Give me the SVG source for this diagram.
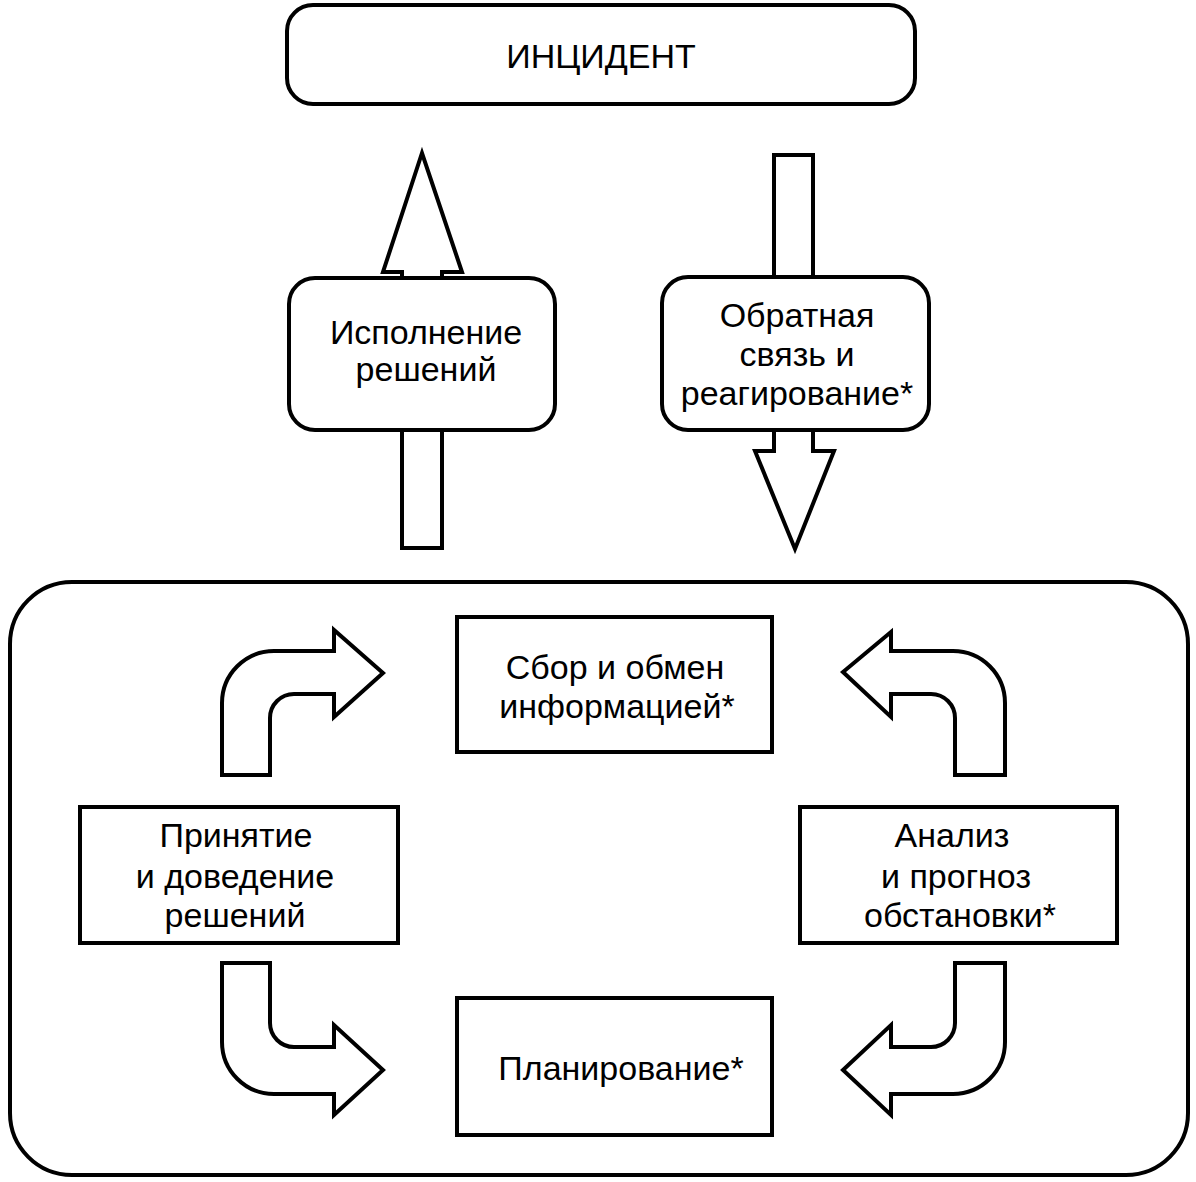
<svg xmlns="http://www.w3.org/2000/svg" width="1196" height="1182" viewBox="0 0 1196 1182">
<style>
.box{fill:#fff;stroke:#000;stroke-width:4}
.arr{fill:#fff;stroke:#000;stroke-width:4;stroke-linejoin:miter}
text{font-family:"Liberation Sans",Arial,sans-serif;font-size:34px;fill:#000;text-anchor:middle}
</style>
<rect width="1196" height="1182" fill="#fff"/>
<g id="container"><rect class="box" x="10" y="582" width="1178" height="593" rx="62"/></g>
<g id="connectors">
<path class="arr" d="M402,280 L402,272 L383,272 L422,153 L462,272 L442,272 L442,280"/>
<path class="arr" d="M402,428 L402,548 L442,548 L442,428"/>
<path class="arr" d="M774,279 L774,155 L813,155 L813,279"/>
<path class="arr" d="M774,428 L774,451 L755,451 L795,549 L834,451 L813,451 L813,428"/>
<path class="arr" d="M222,775 L222,703 A52,52 0 0 1 274,651 L334,651 L334,630 L383,673 L334,717 L334,694 L294,694 A24,24 0 0 0 270,718 L270,775 Z"/>
<path class="arr" d="M1005,775 L1005,703 A52,52 0 0 0 953,651 L891,651 L891,632 L843,672 L891,717 L891,694 L931,694 A24,24 0 0 1 955,718 L955,775 Z"/>
<path class="arr" d="M222,963 L270,963 L270,1023 A24,24 0 0 0 294,1047 L334,1047 L334,1025 L383,1070 L334,1115 L334,1094 L274,1094 A52,52 0 0 1 222,1042 Z"/>
<path class="arr" d="M1005,963 L955,963 L955,1023 A24,24 0 0 1 931,1047 L891,1047 L891,1025 L843,1070 L891,1115 L891,1094 L953,1094 A52,52 0 0 0 1005,1042 Z"/>
</g>
<g id="incident"><rect class="box" x="287" y="5" width="628" height="99" rx="26"/><text x="601" y="68">ИНЦИДЕНТ</text></g>
<g id="ispolnenie"><rect class="box" x="289" y="278" width="266" height="152" rx="26"/><text x="426" y="344">Исполнение</text><text x="426" y="381">решений</text></g>
<g id="obratnaya"><rect class="box" x="662" y="277" width="267" height="153" rx="26"/><text x="797" y="327">Обратная</text><text x="797" y="366">связь и</text><text x="797" y="405">реагирование*</text></g>
<g id="sbor"><rect class="box" x="457" y="617" width="315" height="135"/><text x="615" y="679">Сбор и обмен</text><text x="617" y="718">информацией*</text></g>
<g id="prinyatie"><rect class="box" x="80" y="807" width="318" height="136"/><text x="236" y="847">Принятие</text><text x="235" y="888">и доведение</text><text x="235" y="927">решений</text></g>
<g id="analiz"><rect class="box" x="800" y="807" width="317" height="136"/><text x="952" y="847">Анализ</text><text x="956" y="888">и прогноз</text><text x="960" y="927">обстановки*</text></g>
<g id="planirovanie"><rect class="box" x="457" y="998" width="315" height="137"/><text x="621" y="1080">Планирование*</text></g>
</svg>
